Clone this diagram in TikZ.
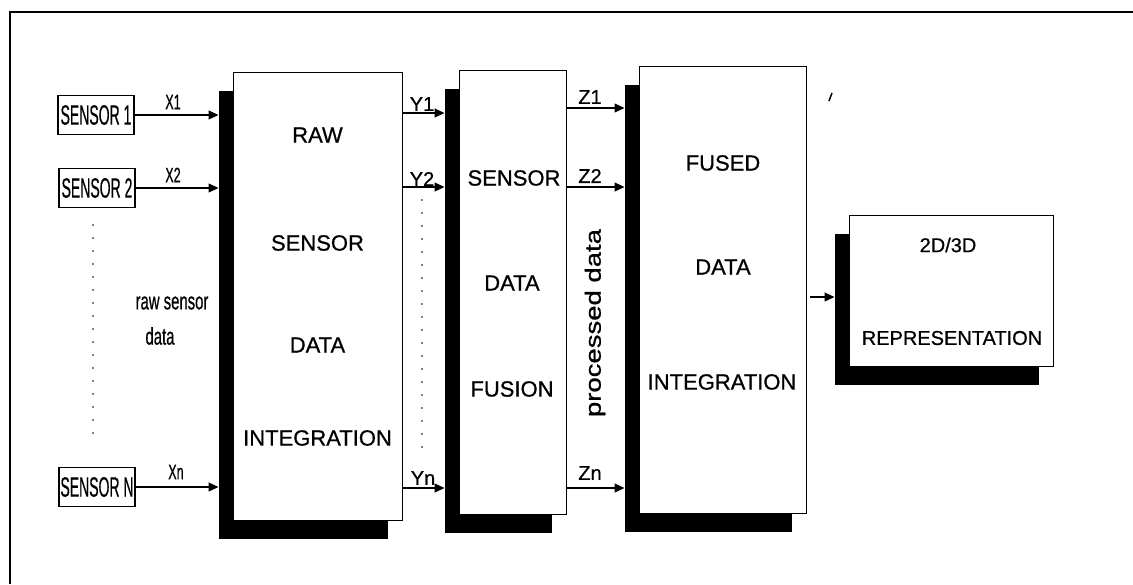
\documentclass[tikz,border=0pt]{standalone}
\usepackage{fontspec}
\setmainfont{Liberation Sans}[FakeBold=0.7]
\usetikzlibrary{shadows,arrows.meta,calc}
\newcommand\narrowtxt[2]{\scalebox{#1}[1]{#2}}
\begin{document}
\begin{tikzpicture}[x=1pt,y=-1pt,
  bigbox/.style={draw=black, line width=1pt, fill=white, inner sep=0pt,
    general shadow={fill=black, shadow xshift=-14pt, shadow yshift=-19pt}},
  sensorbox/.style={draw=black, line width=1.1pt, minimum width=76pt, minimum height=39pt, inner sep=0pt},
  arr/.style={line width=1.2pt, -{Triangle[length=10pt,width=9pt]}},
  boxtxt/.style={font=\fontsize{22}{26}\selectfont},
  reptxt/.style={font=\fontsize{20}{24}\selectfont},
  lbl/.style={font=\fontsize{20}{20}\selectfont, inner sep=0pt},
  xlbl/.style={font=\fontsize{21}{21}\selectfont, inner sep=0pt},
  dotcol/.style={line width=1.8pt, line cap=round, dash pattern=on 0pt off 13pt},
]
\useasboundingbox (0,0) rectangle (1133,584);
\fill[white] (0,0) rectangle (1133,584);
% frame
\draw[line width=1.5pt] (10,584) -- (10,12) -- (1133,12);

% sensors
\node[sensorbox] (s1) at (96,115) {\narrowtxt{0.5}{\fontsize{28}{28}\selectfont SENSOR 1}};
\node[sensorbox] (s2) at (97,188) {\narrowtxt{0.5}{\fontsize{28}{28}\selectfont SENSOR 2}};
\node[sensorbox] (sN) at (97,487) {\narrowtxt{0.5}{\fontsize{28}{28}\selectfont SENSOR N}};

% big boxes
\node[bigbox, minimum width=169pt, minimum height=448pt] (b1) at (317.5,296) {};
\node[bigbox, minimum width=107pt, minimum height=444pt] (b2) at (512.5,292) {};
\node[bigbox, minimum width=167pt, minimum height=447pt] (b3) at (722.5,289.5) {};
\node[bigbox, minimum width=204pt, minimum height=151pt] (b4) at (951,290.5) {};

% shadow left edges
\coordinate (b1L) at ([xshift=-14pt]b1.west);
\coordinate (b2L) at ([xshift=-14pt]b2.west);
\coordinate (b3L) at ([xshift=-14pt]b3.west);
\coordinate (b4L) at ([xshift=-14pt]b4.west);
\coordinate (b3R) at ([xshift=3pt]b3.east);

% rows
\coordinate (ry1) at (0,113);
\coordinate (ry2) at (0,187);
\coordinate (ryn) at (0,488);
\coordinate (rz1) at (0,108);
\coordinate (rz2) at (0,187);
\coordinate (rzn) at (0,488);
\coordinate (r4) at (0,297);

% box texts
\node[boxtxt] (t11) at (317.5,135) {RAW};
\node[boxtxt] (t12) at (317.5,243) {SENSOR};
\node[boxtxt] (t13) at (317.5,345) {DATA};
\node[boxtxt] (t14) at (317.5,438) {INTEGRATION};
\node[boxtxt] (t21) at (514,178) {SENSOR};
\node[boxtxt] (t22) at (512,283) {DATA};
\node[boxtxt] (t23) at (512,389) {FUSION};
\node[boxtxt] (t31) at (723,163) {FUSED};
\node[boxtxt] (t32) at (723,267) {DATA};
\node[boxtxt] (t33) at (722,382) {INTEGRATION};
\node[reptxt] (t41) at (948,245) {2D/3D};
\node[reptxt] (t42) at (952,338) {REPRESENTATION};

% arrows X
\draw[arr] (s1.east) -- (b1L |- s1.east);
\draw[arr] (s2.east) -- (b1L |- s2.east);
\draw[arr] (sN.east) -- (b1L |- sN.east);
% arrows Y
\draw[arr] (b1.east |- ry1) -- (b2L |- ry1);
\draw[arr] (b1.east |- ry2) -- (b2L |- ry2);
\draw[arr] (b1.east |- ryn) -- (b2L |- ryn);
% arrows Z
\draw[arr] (b2.east |- rz1) -- (b3L |- rz1);
\draw[arr] (b2.east |- rz2) -- (b3L |- rz2);
\draw[arr] (b2.east |- rzn) -- (b3L |- rzn);
% to representation
\draw[arr] (b3R |- r4) -- (b4L |- r4);

% labels
\node[xlbl] (lx1) at (173,102) {\narrowtxt{0.6}{X1}};
\node[xlbl] (lx2) at (173,175) {\narrowtxt{0.6}{X2}};
\node[xlbl] (lxn) at (176,472) {\narrowtxt{0.6}{Xn}};
\node[lbl] (ly1) at (422,104) {Y1};
\node[lbl] (ly2) at (422,179) {Y2};
\node[lbl] (lyn) at (423,478) {Yn};
\node[lbl] (lz1) at (590,97) {Z1};
\node[lbl] (lz2) at (590,176) {Z2};
\node[lbl] (lzn) at (590,473) {Zn};

\node[font=\fontsize{24}{24}\selectfont, inner sep=0pt] (raw1) at (172,303) {\narrowtxt{0.62}{raw sensor}};
\node[font=\fontsize{24}{24}\selectfont, inner sep=0pt] (raw2) at (160,336) {\narrowtxt{0.62}{data}};
\node[rotate=90, font=\fontsize{22}{22}\selectfont, inner sep=0pt] (proc) at (595,323) {\narrowtxt{1.25}{processed data}};

% dotted columns
\draw[dotcol] (93,225) -- (93,446);
\draw[dotcol] (422,200) -- (422,454);

% small mark
\draw[line width=1.5pt] (829,101) -- (832,93);
\end{tikzpicture}
\end{document}
